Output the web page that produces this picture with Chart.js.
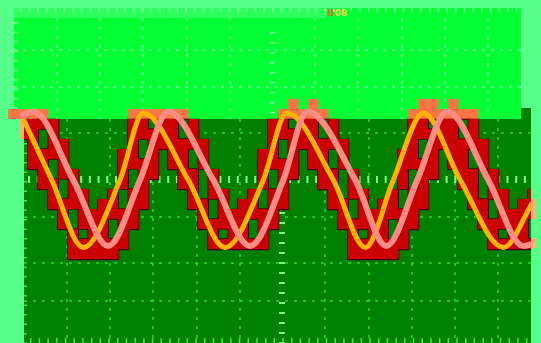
<!DOCTYPE html>
<html>
<head>
<meta charset="utf-8">
<script src="https://cdn.jsdelivr.net/npm/chart.js@4.4.1/dist/chart.umd.min.js"></script>
<style>
  html, body { margin: 0; padding: 0; background: #57ff88; overflow: hidden; }
  #wrap { width: 541px; height: 343px; }
</style>
</head>
<body>
<div id="wrap"><canvas id="scope" width="541" height="343"></canvas></div>
<script>
// Quantised trace: one column per sample, lit codes from codeBottom up to codeTop
const columns    = [-1, 0,1,2,3,4,5,6,7,8,9,10,11,12,13, 14,15,16,17,18,19,20,21,22,23,24,25,26,27, 28,29,30,31,32,33,34,35,36,37,38,39,40,41, 42,43,44,45,46,47,48,49,50];
const codeTop    = [14, 14,14,14,12,9,7,5,6,7,11,14,14,14,14, 14,14,14,12,9,7,5,6,7,11,14,14,14,14, 14,14,14,12,9,7,5,6,7,11,14,14,14,14, 14,14,14,12,9,7,5,6,7];
const codeBottom = [12, 9,7,5,3,0,0,0,0,0,1,3,5,8,11, 9,7,5,3,1,1,1,1,1,1,3,5,8,11, 9,7,5,3,0,0,0,0,0,1,3,5,8,11, 9,7,5,3,1,1,1,1,1];

// Unlit cells inside the trace
const gapColumn = [1,2,3,4,5,8,9,10,11,12, 15,16,17,18,19,22,23,24,25,26, 29,30,31,32,33,36,37,38,39,40, 43,44,45,46,47,50];
const gapBottom = [11,8,6,3,2,2,5,7,10,13, 12,9,6,4,2,2,5,7,10,13, 12,9,6,4,2,2,5,7,10,13, 12,9,6,4,2,2];
const gapTop    = [13,10,8,5,3,4,7,9,12,14, 14,11,9,6,3,4,7,9,12,14, 14,11,9,6,3,4,7,9,12,14, 14,11,9,6,3,4];

// Persistence echo above the trace
const echoColumn = [-2,-1,0,1, 10,11,12,13,14,15, 25,26,27,28,29, 38,39,40,41,42,43,44];
const echoBottom = [14,14,14,14, 14,14,14,14,14,14, 14,14,14,14,14, 14,14,14,14,14,14,14];
const echoTop    = [15,15,15,15, 15,15,15,15,15,15, 15,16,15,16,15, 15,16,16,15,16,15,15];

// Channel 1 (yellow) and channel 2 (pink): time in samples, level in codes
const ch1Time  = [-1.0, 1.84, 5.0, 8.67, 11.0, 15.5, 19.17, 23.0, 25.34, 30.0, 33.2, 36.0, 39.0, 42.7, 47.0, 49.9];
const ch1Level = [14.0, 7.9, 1.15, 7.9, 14.6, 7.9, 1.15, 7.9, 14.6, 7.9, 1.15, 7.9, 14.6, 7.9, 1.15, 5.6];
const ch2Time  = [-1.3, 0.0, 4.0, 7.5, 10.67, 13.5, 18.0, 21.67, 25.0, 27.4, 32.2, 35.3, 38.4, 41.4, 45.5, 49.0, 49.9];
const ch2Level = [14.3, 14.75, 7.9, 1.3, 7.9, 14.75, 7.9, 1.3, 7.9, 14.75, 7.9, 1.3, 7.9, 14.75, 7.9, 1.3, 1.5];

const toCells = (cols, lo, hi) => cols.map((c, i) => ({ x: c, y: [lo[i], hi[i]] }));
const toLine = (t, v) => t.map((x, i) => ({ x, y: v[i] }));
const screenClip = { left: -24, right: -10, top: 0, bottom: 0 };

// Screen furniture: two graticules, the upper one partly covering the lower
const screen = {
  id: 'screen',
  beforeDatasetsDraw(chart) {
    const ctx = chart.ctx;
    ctx.save();
    ctx.fillStyle = '#57ff88';
    ctx.fillRect(0, 0, 541, 343);

    // lower graticule
    ctx.fillStyle = '#008000';
    ctx.fillRect(24, 119, 507, 224);
    ctx.fillRect(475, 108, 56, 11);
    ctx.save();
    ctx.beginPath(); ctx.rect(24, 108, 507, 235); ctx.clip();
    ctx.strokeStyle = '#22dd22';
    ctx.lineWidth = 1.5;
    ctx.setLineDash([3, 6]);
    [67, 110, 153, 197, 240, 325, 369, 412, 455, 498].forEach(x => {
      ctx.beginPath(); ctx.moveTo(x, 119); ctx.lineTo(x, 343); ctx.stroke();
    });
    [133, 217, 263, 301].forEach(y => {
      ctx.beginPath(); ctx.moveTo(24, y); ctx.lineTo(531, y); ctx.stroke();
    });
    ctx.setLineDash([]);
    ctx.fillStyle = '#7dff7d';
    for (let x = 28; x < 531; x += 8.7) ctx.fillRect(x, 176, 2, 7);
    for (let y = 122; y < 343; y += 10) ctx.fillRect(279, y, 6, 2);
    ctx.fillStyle = '#33ee33';
    for (let y = 124; y < 343; y += 9.5) ctx.fillRect(24, y, 3, 1.5);
    for (let x = 30; x < 531; x += 8.7) ctx.fillRect(x, 338, 1.5, 5);
    ctx.restore();

    // upper graticule
    ctx.fillStyle = '#00ff33';
    ctx.fillRect(14, 8, 507, 111);
    ctx.fillStyle = '#2cff5c';
    ctx.fillRect(14, 8, 313, 10);
    ctx.save();
    ctx.beginPath(); ctx.rect(14, 8, 507, 111); ctx.clip();
    ctx.strokeStyle = '#80ff9a';
    ctx.lineWidth = 1.5;
    ctx.setLineDash([3, 6]);
    [57, 100, 143, 187, 230, 315, 358, 402, 445, 488].forEach(x => {
      ctx.beginPath(); ctx.moveTo(x, 18); ctx.lineTo(x, 119); ctx.stroke();
    });
    [50, 87].forEach(y => {
      ctx.beginPath(); ctx.moveTo(14, y); ctx.lineTo(521, y); ctx.stroke();
    });
    ctx.setLineDash([]);
    ctx.fillStyle = '#80ff9a';
    for (let y = 22; y < 119; y += 9.5) ctx.fillRect(14, y, 4, 1.5);
    for (let x = 20; x < 521; x += 8.7) ctx.fillRect(x, 8, 1.5, 4);
    for (let y = 32; y < 119; y += 10) ctx.fillRect(270, y, 5, 1.5);
    ctx.restore();

    // light-orange fringes at the screen edges
    ctx.fillStyle = '#ffb070';
    ctx.fillRect(20, 119, 4, 20);
    ctx.fillRect(531, 199, 5, 20);
    ctx.fillRect(531, 238, 5, 10);

    ctx.font = 'bold 9px "DejaVu Sans"';
    ctx.textBaseline = 'top';
    ctx.fillStyle = '#ff5a2a';
    ctx.fillText('II', 327, 9);
    ctx.fillStyle = '#ffd84a';
    ctx.fillText('08', 335, 9);
    ctx.restore();
  }
};

new Chart(document.getElementById('scope'), {
  type: 'bar',
  data: {
    datasets: [
      { type: 'line', data: toLine(ch2Time, ch2Level), borderColor: '#ff8c84', borderWidth: 6,
        pointRadius: 0, cubicInterpolationMode: 'monotone', fill: false, order: 0,
        clip: { left: -20, right: -10, top: 0, bottom: 0 } },
      { type: 'line', data: toLine(ch1Time, ch1Level), borderColor: '#ffb400', borderWidth: 5,
        pointRadius: 0, cubicInterpolationMode: 'monotone', fill: false, order: 1,
        clip: { left: -22, right: -10, top: 0, bottom: 0 } },
      { data: toCells(gapColumn, gapBottom, gapTop), backgroundColor: '#008000',
        borderColor: '#4a0000', borderWidth: 1, borderSkipped: false, grouped: false,
        barPercentage: 1, categoryPercentage: 1, order: 2, clip: screenClip },
      { data: toCells(columns, codeBottom, codeTop), backgroundColor: '#cc0000',
        borderWidth: 0, grouped: false, barPercentage: 1.04, categoryPercentage: 1, order: 3,
        clip: screenClip },
      { data: columns.map((c, i) => ({ x: c, y: [codeBottom[i] - 0.12, codeTop[i] + 0.02] })),
        backgroundColor: '#4a0000', borderWidth: 0, grouped: false,
        barPercentage: 1.2, categoryPercentage: 1, order: 4, clip: screenClip },
      { data: toCells(echoColumn, echoBottom, echoTop), backgroundColor: '#ff7444',
        borderWidth: 0, grouped: false, barPercentage: 1.02, categoryPercentage: 1, order: 5 }
    ]
  },
  options: {
    responsive: false,
    animation: false,
    devicePixelRatio: 1,
    layout: { padding: 0 },
    plugins: { legend: { display: false }, tooltip: { enabled: false }, title: { display: false } },
    scales: {
      x: { type: 'linear', display: false, offset: false, min: -3.33, max: 50.77 },
      y: { type: 'linear', display: false, min: -8.4, max: 25.9 }
    }
  },
  plugins: [screen]
});
</script>
</body>
</html>
